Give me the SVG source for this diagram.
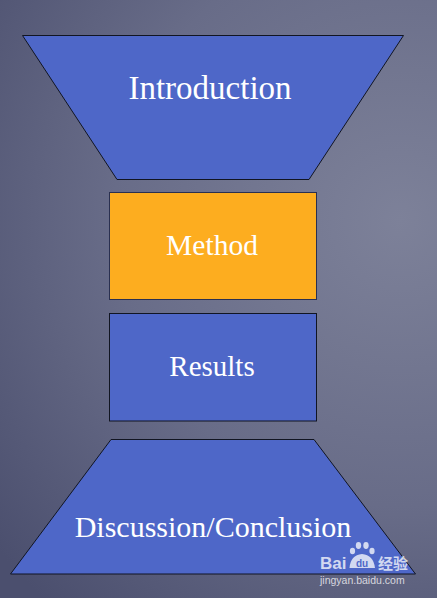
<svg xmlns="http://www.w3.org/2000/svg" width="437" height="598" viewBox="0 0 437 598">
<defs>
<radialGradient id="bg" cx="400" cy="220" r="520" gradientUnits="userSpaceOnUse">
<stop offset="0" stop-color="#7d8199"/>
<stop offset="0.55" stop-color="#686c88"/>
<stop offset="1" stop-color="#4b4f6e"/>
</radialGradient>
<style>
.blue{fill:#4e67c8;stroke:#111522;stroke-width:1}
.orange{fill:#fdad1f;stroke:#2a3050;stroke-width:1}
.lbl{fill:#ffffff;font-family:"Liberation Serif","Times New Roman",serif;text-anchor:middle}
.wm{fill:#ffffff;fill-opacity:0.75;font-family:"Liberation Sans","Noto Sans CJK SC",sans-serif}
</style>
</defs>
<rect x="0" y="0" width="437" height="598" fill="url(#bg)"/>
<g id="introduction">
<polygon class="blue" points="22.5,35.5 403.5,35.5 309,179.5 117,179.5"/>
<text class="lbl" x="210" y="99" font-size="33">Introduction</text>
</g>
<g id="method">
<rect class="orange" x="109.5" y="192.5" width="207" height="107"/>
<text class="lbl" x="212" y="255" font-size="29.5">Method</text>
</g>
<g id="results">
<rect class="blue" x="109.5" y="313.5" width="207" height="107.5"/>
<text class="lbl" x="212" y="376" font-size="29">Results</text>
</g>
<g id="discussion">
<polygon class="blue" points="111,439.5 314,439.5 415.5,574 10.5,574"/>
<text class="lbl" x="213" y="537" font-size="30">Discussion/Conclusion</text>
</g>
<g id="connectors"></g>
<g id="watermark">
<text class="wm" x="320" y="568.5" font-size="17" font-weight="bold">Bai</text>
<g fill="#ffffff" fill-opacity="0.75">
<ellipse cx="352.5" cy="551" rx="2.6" ry="3.3"/>
<ellipse cx="358.5" cy="545.5" rx="2.7" ry="3.4"/>
<ellipse cx="366" cy="545.5" rx="2.7" ry="3.4"/>
<ellipse cx="372" cy="551" rx="2.6" ry="3.3"/>
<path d="M349.5,568 Q350.5,555 362,554 Q373.5,555 375,568 Z"/>
</g>
<text x="362" y="566.5" font-size="10" font-weight="bold" fill="#4e67c8" text-anchor="middle" font-family="Liberation Sans,sans-serif">du</text>
<text class="wm" x="378" y="569" font-size="15" font-weight="bold">经验</text>
<text class="wm" x="320" y="583.5" font-size="10.5">jingyan.baidu.com</text>
</g>
</svg>
